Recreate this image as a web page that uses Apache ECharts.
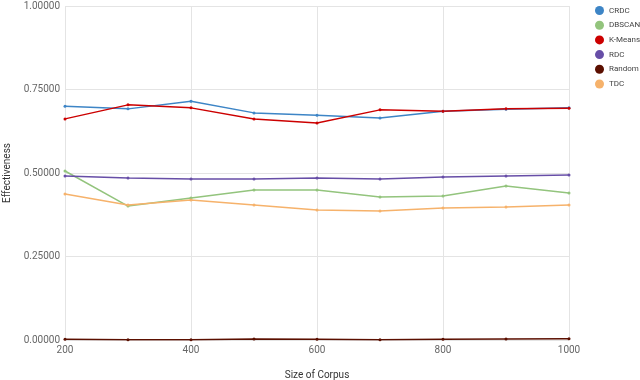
<!DOCTYPE html>
<html>
<head>
<meta charset="utf-8">
<script src="https://cdn.jsdelivr.net/npm/echarts@6/dist/echarts.min.js"></script>
<style>
  html, body { margin: 0; padding: 0; background: #fff; }
  #chart-container { width: 640px; height: 380px; }
</style>
</head>
<body>
<div id="chart-container"></div>
<script>
const sizes = [200, 300, 400, 500, 600, 700, 800, 900, 1000];
const crdc = [0.700, 0.692, 0.715, 0.680, 0.673, 0.665, 0.685, 0.691, 0.695];
const dbscan = [0.506, 0.401, 0.425, 0.449, 0.449, 0.428, 0.431, 0.461, 0.440];
const kmeans = [0.662, 0.704, 0.695, 0.662, 0.650, 0.689, 0.685, 0.692, 0.694];
const rdc = [0.491, 0.485, 0.482, 0.482, 0.485, 0.482, 0.488, 0.491, 0.494];
const random = [0.002, 0.001, 0.001, 0.003, 0.002, 0.001, 0.002, 0.003, 0.004];
const tdc = [0.437, 0.404, 0.419, 0.404, 0.389, 0.386, 0.395, 0.398, 0.404];

(() => {
  var dom = document.getElementById("chart-container");
  var chart = echarts.init(dom, null, { renderer: "canvas" });

  const mk = (name, color, values) => ({
    name: name,
    type: "line",
    color: color,
    data: sizes.map((s, i) => [s, values[i]]),
    symbol: "circle",
    symbolSize: 3,
    lineStyle: { width: 1.5 },
  });

  const option = {
    animation: false,
    textStyle: { fontFamily: "Roboto" },
    grid: {
      left: 65, right: 71, top: 6, bottom: 40,
      containLabel: false,
      outerBoundsMode: "none",
    },
    legend: {
      orient: "vertical",
      left: 590,
      top: 1,
      width: 60,
      icon: "circle",
      itemWidth: 9,
      itemHeight: 9,
      itemGap: 5.7,
      textStyle: { fontSize: 8, color: "#444", overflow: "none" },
    },
    xAxis: {
      type: "value",
      min: 200,
      max: 1000,
      interval: 200,
      name: "Size of Corpus",
      nameLocation: "middle",
      nameGap: 30,
      nameTextStyle: { fontSize: 10, color: "#333" },
      axisLine: { show: false },
      axisTick: { show: false },
      axisLabel: { fontSize: 10, color: "#666", margin: 5, formatter: (v) => String(v) },
      splitLine: { show: true, lineStyle: { color: "#e4e4e4" } },
    },
    yAxis: {
      type: "value",
      min: 0,
      max: 1,
      interval: 0.25,
      name: "Effectiveness",
      nameLocation: "middle",
      nameGap: 52,
      nameTextStyle: { fontSize: 10, color: "#333" },
      axisLine: { show: false },
      axisTick: { show: false },
      axisLabel: {
        fontSize: 10,
        color: "#666",
        margin: 5,
        formatter: (v) => v.toFixed(5),
      },
      splitLine: { show: true, lineStyle: { color: "#e4e4e4" } },
    },
    series: [
      mk("CRDC", "#3d85c6", crdc),
      mk("DBSCAN", "#93c47d", dbscan),
      mk("K-Means", "#cc0000", kmeans),
      mk("RDC", "#674ea7", rdc),
      mk("Random", "#5b0f00", random),
      mk("TDC", "#f6b26b", tdc),
    ],
  };

  chart.setOption(option);
  window.addEventListener("resize", chart.resize);
})();
</script>
</body>
</html>
